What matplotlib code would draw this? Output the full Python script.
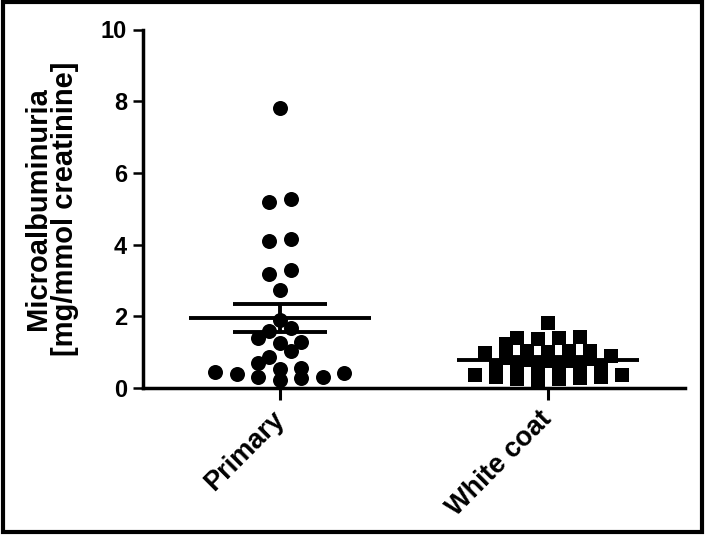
import numpy as np
import matplotlib
matplotlib.use("Agg")
import matplotlib.pyplot as plt
from matplotlib.patches import Rectangle

# ---------------- data ----------------
categories = ["Primary", "White coat"]
primary = [7.81, 5.28, 5.19, 4.09, 4.16, 3.18, 3.30, 2.74, 1.90, 1.67, 1.60,
           1.39, 1.25, 1.27, 1.03, 0.86, 0.71, 0.46, 0.39, 0.55, 0.52, 0.32,
           0.22, 0.29, 0.32, 0.43]
white_coat = [1.81,
              1.38, 1.39, 1.40, 1.41,
              0.99, 1.00, 1.02, 1.03, 1.04, 1.22,
              0.74, 0.76, 0.78, 0.80, 0.84, 0.88,
              0.48, 0.50, 0.52, 0.55, 0.58, 0.62,
              0.22, 0.24, 0.26, 0.28, 0.30, 0.32, 0.36, 0.36]
yticks = [0, 2, 4, 6, 8, 10]
ylabel = "Microalbuminuria\n[mg/mmol creatinine]"

plt.rcParams['font.family'] = ['Liberation Sans', 'DejaVu Sans']
plt.rcParams['font.weight'] = 'bold'

W, H, DPI = 709, 536, 100
fig = plt.figure(figsize=(W / DPI, H / DPI), dpi=DPI)
ax = fig.add_axes([143 / W, 1 - 388 / H, (685 - 143) / W, (388 - 29.5) / H])
ax.set_xlim(-0.511, 1.511)
ax.set_ylim(0, 10)


def row_scatter(values, center, row_px, spacing_px):
    """GraphPad-like column scatter: bin values into rows, spread each row
    symmetrically around the column centre (lowest value nearest centre)."""
    vals = np.asarray(values, float)
    n = len(vals)
    yp = ax.transData.transform(np.column_stack([np.full(n, center), vals]))[:, 1]
    ppu = (ax.transData.transform((1, 0)) - ax.transData.transform((0, 0)))[0]
    order = np.argsort(vals, kind="stable")
    rows, cur, start = [], [], None
    for i in order:
        if start is None or yp[i] - start >= row_px:
            if cur:
                rows.append(cur)
            cur, start = [i], yp[i]
        else:
            cur.append(i)
    rows.append(cur)
    xs = np.zeros(n)
    for r in rows:
        k = len(r)
        if k % 2:
            slots = [0.0]
            for j in range(1, k // 2 + 1):
                slots += [j, -j]
        else:
            slots = []
            for j in range(k // 2):
                slots += [-(j + 0.5), j + 0.5]
        for idx, s in zip(r, slots):
            xs[idx] = s * spacing_px
    return center + xs / ppu


groups = [primary, white_coat]
markers = ['o', 's']
for gi, (vals, mk) in enumerate(zip(groups, markers)):
    if mk == 'o':
        x = row_scatter(vals, gi, 9.0, 21.5)
        ms = 10.8
    else:
        x = row_scatter(vals, gi, 9.0, 21.0)
        ms = 10.3
    ax.plot(x, vals, linestyle='none', marker=mk, markersize=ms,
            color='black', markeredgewidth=0, clip_on=False, zorder=3)
    v = np.asarray(vals)
    m = v.mean()
    sem = v.std(ddof=1) / np.sqrt(len(v))
    ax.hlines(m, gi - 0.34, gi + 0.34, color='black', lw=2.8, zorder=4)
    ax.hlines([m - sem, m + sem], gi - 0.175, gi + 0.175, color='black', lw=2.8, zorder=4)
    ax.vlines(gi, m - sem, m + sem, color='black', lw=2.8, zorder=4)

ax.set_yticks(yticks)
ax.set_yticklabels([str(t) for t in yticks], fontsize=17, fontweight='bold')
ax.set_xticks(range(len(categories)))
ax.set_xticklabels(categories, fontsize=19.5, fontweight='bold', rotation=45,
                   ha='right', va='center', rotation_mode='anchor')
ax.tick_params(axis='y', direction='out', length=7.5, width=1.8, pad=4)
ax.tick_params(axis='x', direction='out', length=8.5, width=2.2, pad=11)
for s in ['top', 'right']:
    ax.spines[s].set_visible(False)
for s in ['left', 'bottom']:
    ax.spines[s].set_linewidth(2.5)
ax.set_ylabel(ylabel, fontsize=21, fontweight='bold', linespacing=0.95, labelpad=16)

fig.patches.append(Rectangle((3 / W, 1 - 532 / H), 699 / W, 530 / H,
                             transform=fig.transFigure, fill=False,
                             edgecolor='black', linewidth=3))

fig.savefig("out.png", dpi=DPI)
